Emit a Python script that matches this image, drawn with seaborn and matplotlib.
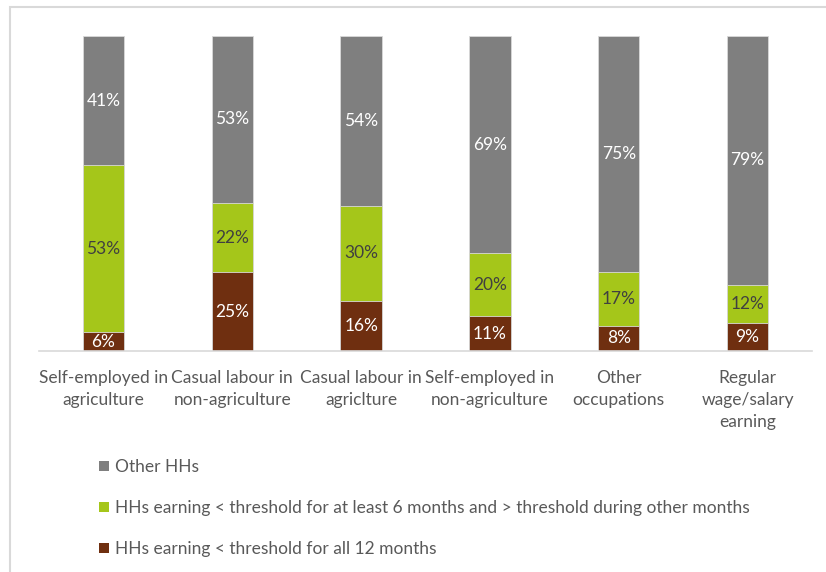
import matplotlib
matplotlib.use("Agg")
import matplotlib.pyplot as plt
from matplotlib.patches import Patch, Rectangle
import numpy as np
import pandas as pd
import seaborn as sns

categories = [
    "Self-employed in\nagriculture",
    "Casual labour in\nnon-agriculture",
    "Casual labour in\nagriclture",
    "Self-employed in\nnon-agriculture",
    "Other\noccupations",
    "Regular\nwage/salary\nearning",
]
below_all_year = [6, 25, 16, 11, 8, 9]
below_six_months = [53, 22, 30, 20, 17, 12]
other_hhs = [41, 53, 54, 69, 75, 79]

series_names = [
    "HHs earning < threshold for all 12 months",
    "HHs earning < threshold for at least 6 months and > threshold during other months",
    "Other HHs",
]
colors = ["#6f2f10", "#a5c61a", "#7f7f7f"]
label_colors = ["white", "#404040", "white"]

sns.set_theme(style="white")
plt.rcParams["font.family"] = ["Lato", "DejaVu Sans"]

fig = plt.figure(figsize=(8.26, 5.72), dpi=100)
W, H = 826, 572
ax = fig.add_axes([39 / W, (H - 351) / H, (812 - 39) / W, (351 - 36) / H])

layers = [below_all_year, below_six_months, other_hhs]
cum = np.cumsum(np.array(layers), axis=0)
df = pd.DataFrame({"category": categories})

# Draw cumulative totals from the top down so each segment sits on the one below
for i in range(2, -1, -1):
    df["value"] = cum[i]
    sns.barplot(data=df, x="category", y="value", color=colors[i], width=0.32,
                saturation=1, edgecolor="#d9d9d9", linewidth=0.6, ax=ax)

for i, vals in enumerate(layers):
    base = cum[i] - np.array(vals)
    for j, v in enumerate(vals):
        ax.text(j, base[j] + v / 2, f"{v}%", ha="center", va="center",
                fontsize=12.5, color=label_colors[i])

ax.set_xlim(-0.5, 5.5)
ax.set_ylim(0, 100)
ax.set_xlabel("")
ax.set_ylabel("")
ax.set_yticks([])
for s in ["top", "right", "left"]:
    ax.spines[s].set_visible(False)
ax.spines["bottom"].set_color("#d9d9d9")
ax.spines["bottom"].set_linewidth(1.2)
ax.tick_params(axis="x", length=0, pad=14, labelsize=12.5, labelcolor="#595959")
for t in ax.get_xticklabels():
    t.set_linespacing(1.45)

handles = [Patch(facecolor=colors[i], edgecolor="none") for i in (2, 1, 0)]
labels = [series_names[i] for i in (2, 1, 0)]
fig.legend(handles, labels, loc="upper left", bbox_to_anchor=(99 / W, 1 - 459 / H),
           frameon=False, fontsize=12.5, labelcolor="#595959",
           handlelength=0.55, handleheight=0.55, handletextpad=0.35,
           labelspacing=1.45, borderpad=0, borderaxespad=0)

# Light frame around the figure
fig.patches.append(Rectangle((10 / W, -0.05), 1.05, 1 - 7 / H + 0.05,
                             transform=fig.transFigure, fill=False,
                             edgecolor="#d9d9d9", linewidth=1.5))

fig.savefig("out.png", dpi=100)
